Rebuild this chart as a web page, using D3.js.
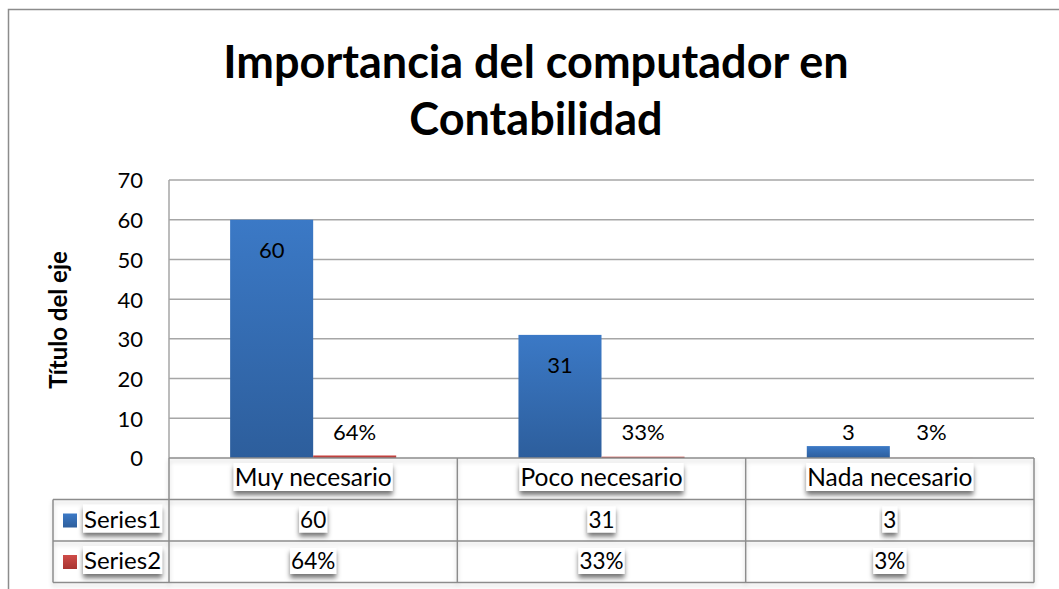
<!DOCTYPE html>
<html>
<head>
<meta charset="utf-8">
<script src="https://cdn.jsdelivr.net/npm/d3@7"></script>
<style>
  body { margin: 0; background: #fff; }
  svg { display: block; font-family: Lato, "Open Sans", sans-serif; }
</style>
</head>
<body>
<div id="chart"></div>
<script>
// data
var categories = ["Muy necesario", "Poco necesario", "Nada necesario"];
var seriesNames = ["Series1", "Series2"];
var series1 = [60, 31, 3];
var series2 = [64, 33, 3]; // percent, plotted as fraction
var yTicks = [0, 10, 20, 30, 40, 50, 60, 70];
var titleLines = ["Importancia del computador en", "Contabilidad"];

var W = 1059, H = 589;
var plot = { left: 169, right: 1034, top: 180, bottom: 458 };
var rowH = 41.5, legendLeft = 53;

var svg = d3.select("#chart").append("svg")
    .attr("width", W).attr("height", H);

var defs = svg.append("defs");
var grad = defs.append("linearGradient").attr("id", "blueGrad")
    .attr("x1", 0).attr("y1", 0).attr("x2", 0).attr("y2", 1);
grad.append("stop").attr("offset", "0%").attr("stop-color", "#3b79c6");
grad.append("stop").attr("offset", "100%").attr("stop-color", "#2d5e9c");
var gradR = defs.append("linearGradient").attr("id", "redGrad")
    .attr("x1", 0).attr("y1", 0).attr("x2", 0).attr("y2", 1);
gradR.append("stop").attr("offset", "0%").attr("stop-color", "#cf4c48");
gradR.append("stop").attr("offset", "100%").attr("stop-color", "#a83431");

var shadow = defs.append("filter").attr("id", "shadow")
    .attr("x", "-20%").attr("y", "-20%").attr("width", "140%").attr("height", "180%");
shadow.append("feDropShadow").attr("dx", 0).attr("dy", 4)
    .attr("stdDeviation", 2.5).attr("flood-color", "#000").attr("flood-opacity", 0.55);
var lineShadow = defs.append("filter").attr("id", "lineShadow")
    .attr("x", "-5%").attr("y", "-50%").attr("width", "110%").attr("height", "200%");
lineShadow.append("feDropShadow").attr("dx", 0).attr("dy", 3)
    .attr("stdDeviation", 2).attr("flood-color", "#000").attr("flood-opacity", 0.18);

// outer chart border
svg.append("rect")
    .attr("x", 8.5).attr("y", 9.5).attr("width", 1200).attr("height", 700)
    .attr("fill", "#fff").attr("stroke", "#8c8c8c").attr("stroke-width", 1.5);

// title
svg.append("g").selectAll("text")
    .data(titleLines)
    .enter().append("text")
    .attr("x", 536)
    .attr("y", function (d, i) { return 78 + i * 57; })
    .attr("text-anchor", "middle")
    .attr("font-size", 45)
    .attr("font-weight", "bold")
    .attr("fill", "#000")
    .text(function (d) { return d; });

// scales
var y = d3.scaleLinear().domain([0, 70]).range([plot.bottom, plot.top]);
var col = d3.scaleBand().domain(categories).range([plot.left, plot.right]).padding(0);
var x = d3.scaleBand().domain(categories).range([plot.left, plot.right])
    .paddingInner(0.424).paddingOuter(0.212);
var xSub = d3.scaleBand().domain(seriesNames).range([0, x.bandwidth()]);

// gridlines
svg.append("g")
    .selectAll("line")
    .data(yTicks.slice(1))
    .enter().append("line")
    .attr("x1", plot.left).attr("x2", plot.right)
    .attr("y1", function (d) { return y(d); })
    .attr("y2", function (d) { return y(d); })
    .attr("stroke", "#a6a6a6").attr("stroke-width", 1.5);

// plot left border
svg.append("line")
    .attr("x1", plot.left).attr("x2", plot.left)
    .attr("y1", plot.top).attr("y2", plot.bottom)
    .attr("stroke", "#a6a6a6").attr("stroke-width", 1.5);

// y axis
var yAxis = svg.append("g")
    .attr("transform", "translate(" + (plot.left - 26) + ",0)")
    .call(d3.axisLeft(y).tickValues(yTicks).tickSize(0).tickPadding(0));
yAxis.select(".domain").remove();
yAxis.selectAll("text")
    .attr("font-family", "Lato, sans-serif")
    .attr("font-size", 22)
    .attr("fill", "#000")
    .attr("dy", "0.36em");

// y axis title
svg.append("text")
    .attr("transform", "translate(67,320) rotate(-90)")
    .attr("text-anchor", "middle")
    .attr("font-size", 24)
    .attr("font-weight", "bold")
    .text("Título del eje");

// bars
var rows = categories.map(function (c, i) {
    return { cat: c, vals: [
        { s: "Series1", v: series1[i], label: String(series1[i]) },
        { s: "Series2", v: series2[i] / 100, label: series2[i] + "%" }
    ] };
});

var groups = svg.append("g").selectAll("g")
    .data(rows)
    .enter().append("g")
    .attr("transform", function (d) { return "translate(" + x(d.cat) + ",0)"; });

groups.selectAll("rect")
    .data(function (d) { return d.vals; })
    .enter().append("rect")
    .attr("x", function (d) { return xSub(d.s); })
    .attr("width", xSub.bandwidth())
    .attr("y", function (d) { return y(d.v); })
    .attr("height", function (d) { return plot.bottom - y(d.v); })
    .attr("fill", function (d) { return d.s === "Series1" ? "url(#blueGrad)" : "url(#redGrad)"; });

groups.selectAll("text")
    .data(function (d) { return d.vals; })
    .enter().append("text")
    .attr("x", function (d) { return xSub(d.s) + xSub.bandwidth() / 2; })
    .attr("y", function (d) {
        var top = y(d.v);
        if (plot.bottom - top > 40) return top + 38;
        return Math.min(top - 6, plot.bottom - 18);
    })
    .attr("text-anchor", "middle")
    .attr("font-size", 22)
    .attr("fill", "#000")
    .text(function (d) { return d.label; });

// data table
var table = svg.append("g").attr("filter", "url(#lineShadow)");
var tStroke = "#8c8c8c";
var tableBottom = plot.bottom + rowH * 3;
// horizontal lines
table.append("line").attr("x1", plot.left).attr("x2", plot.right)
    .attr("y1", plot.bottom).attr("y2", plot.bottom)
    .attr("stroke", tStroke).attr("stroke-width", 1.5);
[1, 2, 3].forEach(function (r) {
    table.append("line").attr("x1", legendLeft).attr("x2", plot.right)
        .attr("y1", plot.bottom + rowH * r).attr("y2", plot.bottom + rowH * r)
        .attr("stroke", tStroke).attr("stroke-width", 1.5);
});
// vertical lines
categories.forEach(function (c) {
    table.append("line").attr("x1", col(c)).attr("x2", col(c))
        .attr("y1", plot.bottom).attr("y2", tableBottom)
        .attr("stroke", tStroke).attr("stroke-width", 1.5);
});
table.append("line").attr("x1", plot.right).attr("x2", plot.right)
    .attr("y1", plot.bottom).attr("y2", tableBottom)
    .attr("stroke", tStroke).attr("stroke-width", 1.5);
table.append("line").attr("x1", legendLeft).attr("x2", legendLeft)
    .attr("y1", plot.bottom + rowH).attr("y2", tableBottom)
    .attr("stroke", tStroke).attr("stroke-width", 1.5);

// text with white box + shadow
function boxText(g, tx, ty, str, size, anchor) {
    var t = g.append("text")
        .attr("x", tx).attr("y", ty)
        .attr("text-anchor", anchor || "middle")
        .attr("font-size", size)
        .attr("fill", "#000")
        .text(str);
    var b = t.node().getBBox();
    g.insert("rect", function () { return t.node(); })
        .attr("x", b.x - 1).attr("y", b.y + 1)
        .attr("width", b.width + 2).attr("height", b.height - 1)
        .attr("fill", "#fff")
        .attr("filter", "url(#shadow)");
}

var cells = svg.append("g");
categories.forEach(function (c, i) {
    var cx = col(c) + col.bandwidth() / 2;
    boxText(cells.append("g"), cx, plot.bottom + 28, c, 24.5);
    boxText(cells.append("g"), cx, plot.bottom + rowH + 28, String(series1[i]), 22.5);
    boxText(cells.append("g"), cx, plot.bottom + rowH * 2 + 28, series2[i] + "%", 22.5);
});

// legend keys inside table
var keyColors = ["url(#blueGrad)", "url(#redGrad)"];
seriesNames.forEach(function (s, i) {
    var ry = plot.bottom + rowH * (i + 1);
    cells.append("rect")
        .attr("x", 63).attr("y", ry + 14)
        .attr("width", 14).attr("height", 14)
        .attr("fill", keyColors[i]);
    boxText(cells.append("g"), 84, ry + 28, s, 24, "start");
});
</script>
</body>
</html>
